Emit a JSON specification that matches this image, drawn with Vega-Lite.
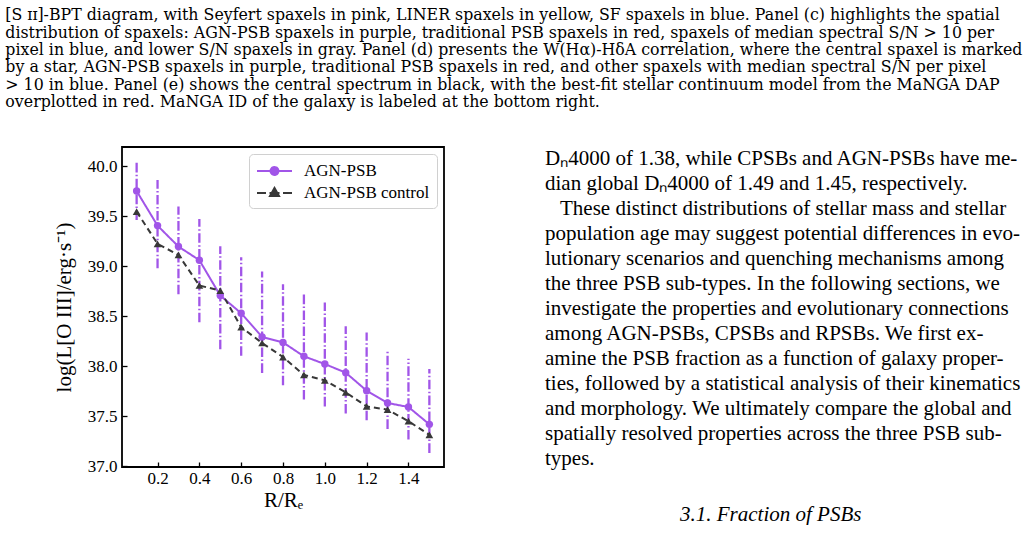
{
  "$schema": "https://vega.github.io/schema/vega-lite/v6.json",
  "background": "white",
  "padding": {"left": 5, "top": 7, "right": 0, "bottom": 0},
  "title": {
    "text": [
      "[S ɪɪ]-BPT diagram, with Seyfert spaxels in pink, LINER spaxels in yellow, SF spaxels in blue. Panel (c) highlights the spatial",
      "distribution of spaxels: AGN-PSB spaxels in purple, traditional PSB spaxels in red, spaxels of median spectral S/N > 10 per",
      "pixel in blue, and lower S/N spaxels in gray. Panel (d) presents the W(Hα)-HδA correlation, where the central spaxel is marked",
      "by a star, AGN-PSB spaxels in purple, traditional PSB spaxels in red, and other spaxels with median spectral S/N per pixel",
      "> 10 in blue. Panel (e) shows the central spectrum in black, with the best-fit stellar continuum model from the MaNGA DAP",
      "overplotted in red. MaNGA ID of the galaxy is labeled at the bottom right."
    ],
    "anchor": "start",
    "dx": -47,
    "font": "DejaVu Serif",
    "fontSize": 15.8,
    "fontWeight": "normal",
    "lineHeight": 17.4,
    "color": "black",
    "offset": 35
  },
  "spacing": 100,
  "resolve": {"legend": {"color": "independent"}, "scale": {"color": "independent"}},
  "hconcat": [
    {
      "width": 322,
      "height": 320,
      "data": {
        "values": [
          {"series": "AGN-PSB", "r": 0.1, "L": 39.75, "lo": 39.46, "hi": 40.04},
          {"series": "AGN-PSB", "r": 0.2, "L": 39.405, "lo": 38.98, "hi": 39.86},
          {"series": "AGN-PSB", "r": 0.3, "L": 39.196, "lo": 38.72, "hi": 39.595},
          {"series": "AGN-PSB", "r": 0.4, "L": 39.06, "lo": 38.44, "hi": 39.47},
          {"series": "AGN-PSB", "r": 0.5, "L": 38.707, "lo": 38.17, "hi": 39.2},
          {"series": "AGN-PSB", "r": 0.6, "L": 38.53, "lo": 38.105, "hi": 39.09},
          {"series": "AGN-PSB", "r": 0.7, "L": 38.293, "lo": 37.934, "hi": 38.947},
          {"series": "AGN-PSB", "r": 0.8, "L": 38.239, "lo": 37.81, "hi": 38.82},
          {"series": "AGN-PSB", "r": 0.9, "L": 38.1, "lo": 37.668, "hi": 38.731},
          {"series": "AGN-PSB", "r": 1.0, "L": 38.023, "lo": 37.6, "hi": 38.638},
          {"series": "AGN-PSB", "r": 1.1, "L": 37.937, "lo": 37.528, "hi": 38.4},
          {"series": "AGN-PSB", "r": 1.2, "L": 37.757, "lo": 37.461, "hi": 38.339},
          {"series": "AGN-PSB", "r": 1.3, "L": 37.634, "lo": 37.375, "hi": 38.166},
          {"series": "AGN-PSB", "r": 1.4, "L": 37.594, "lo": 37.269, "hi": 38.076},
          {"series": "AGN-PSB", "r": 1.5, "L": 37.421, "lo": 37.136, "hi": 37.974},
          {"series": "AGN-PSB control", "r": 0.1, "L": 39.545},
          {"series": "AGN-PSB control", "r": 0.2, "L": 39.223},
          {"series": "AGN-PSB control", "r": 0.3, "L": 39.113},
          {"series": "AGN-PSB control", "r": 0.4, "L": 38.807},
          {"series": "AGN-PSB control", "r": 0.5, "L": 38.757},
          {"series": "AGN-PSB control", "r": 0.6, "L": 38.392},
          {"series": "AGN-PSB control", "r": 0.7, "L": 38.233},
          {"series": "AGN-PSB control", "r": 0.8, "L": 38.093},
          {"series": "AGN-PSB control", "r": 0.9, "L": 37.914},
          {"series": "AGN-PSB control", "r": 1.0, "L": 37.86},
          {"series": "AGN-PSB control", "r": 1.1, "L": 37.741},
          {"series": "AGN-PSB control", "r": 1.2, "L": 37.6},
          {"series": "AGN-PSB control", "r": 1.3, "L": 37.568},
          {"series": "AGN-PSB control", "r": 1.4, "L": 37.452},
          {"series": "AGN-PSB control", "r": 1.5, "L": 37.316}
        ]
      },
      "encoding": {
        "x": {
          "field": "r",
          "type": "quantitative",
          "scale": {"domain": [0.03, 1.57], "nice": false, "zero": false},
          "axis": {
            "values": [0.2, 0.4, 0.6, 0.8, 1.0, 1.2, 1.4],
            "format": ".1f",
            "title": "R/Rₑ",
            "labelPadding": 8,
            "titlePadding": 3
          }
        },
        "y": {
          "field": "L",
          "type": "quantitative",
          "scale": {"domain": [36.995, 40.19], "nice": false, "zero": false},
          "axis": {
            "values": [37.0, 37.5, 38.0, 38.5, 39.0, 39.5, 40.0],
            "format": ".1f",
            "title": "log(L[O III]/erg·s⁻¹)",
            "labelPadding": 10,
            "titlePadding": 13
          }
        },
        "color": {
          "field": "series",
          "type": "nominal",
          "scale": {"domain": ["AGN-PSB", "AGN-PSB control"], "range": ["#a155e8", "#383838"]},
          "legend": {
            "title": null,
            "orient": "top-right",
            "offset": 7,
            "padding": 7,
            "fillColor": "white",
            "strokeColor": "#d0d0d0",
            "cornerRadius": 4,
            "labelFont": "Liberation Serif",
            "labelFontSize": 17,
            "labelColor": "black",
            "symbolSize": 324,
            "symbolStrokeWidth": 2,
            "rowPadding": 4,
            "labelOffset": 28,
            "encode": {
              "symbols": {
                "update": {
                  "shape": {"signal": "datum.value === 'AGN-PSB' ? 'M-1,0L2.89,0M1.384,0A0.44,0.44 0 1 1 0.504,0A0.44,0.44 0 1 1 1.384,0Z' : 'M-1,0L0,0M0.39,0L1.5,0M1.89,0L2.89,0M0.944,-0.56L1.444,0.33L0.444,0.33Z'"},
                  "fill": {"signal": "datum.value === 'AGN-PSB' ? '#a155e8' : '#383838'"},
                  "stroke": {"signal": "datum.value === 'AGN-PSB' ? '#a155e8' : '#383838'"},
                  "strokeDash": {"value": [1, 0]},
                  "opacity": {"value": 1},
                  "fillOpacity": {"value": 1}
                }
              }
            }
          }
        }
      },
      "layer": [
        {
          "transform": [{"filter": "datum.series === 'AGN-PSB'"}],
          "mark": {"type": "rule", "strokeWidth": 2.3, "strokeDash": [9.6, 2.4, 1.5, 2.4]},
          "encoding": {
            "y": {"field": "lo", "type": "quantitative"},
            "y2": {"field": "hi"}
          }
        },
        {
          "mark": {"type": "line", "strokeWidth": 2},
          "encoding": {
            "strokeDash": {
              "field": "series",
              "type": "nominal",
              "scale": {"domain": ["AGN-PSB", "AGN-PSB control"], "range": [[1, 0], [6, 4]]},
              "legend": null
            }
          }
        },
        {
          "transform": [{"filter": "datum.series === 'AGN-PSB'"}],
          "mark": {"type": "point", "shape": "circle", "filled": true, "size": 55, "opacity": 1}
        },
        {
          "transform": [{"filter": "datum.series === 'AGN-PSB control'"}],
          "mark": {"type": "point", "shape": "triangle-up", "filled": true, "size": 60, "opacity": 1}
        }
      ]
    },
    {
      "width": 1,
      "height": 1,
      "view": {"stroke": null},
      "data": {"values": []},
      "mark": {"type": "point", "opacity": 0},
      "title": {
        "text": [
          "Dₙ4000 of 1.38, while CPSBs and AGN-PSBs have me-",
          "dian global Dₙ4000 of 1.49 and 1.45, respectively.",
          "\u2800These distinct distributions of stellar mass and stellar",
          "population age may suggest potential differences in evo-",
          "lutionary scenarios and quenching mechanisms among",
          "the three PSB sub-types. In the following sections, we",
          "investigate the properties and evolutionary connections",
          "among AGN-PSBs, CPSBs and RPSBs. We first ex-",
          "amine the PSB fraction as a function of galaxy proper-",
          "ties, followed by a statistical analysis of their kinematics",
          "and morphology. We ultimately compare the global and",
          "spatially resolved properties across the three PSB sub-",
          "types."
        ],
        "subtitle": ["\u2800\u2800\u2800\u2800\u2800\u2800\u2800\u2800\u28003.1. Fraction of PSBs"],
        "orient": "bottom",
        "anchor": "start",
        "baseline": "top",
        "offset": 0,
        "font": "Liberation Serif",
        "fontSize": 21,
        "fontWeight": "normal",
        "lineHeight": 25,
        "color": "black",
        "subtitleFont": "Liberation Serif",
        "subtitleFontSize": 21,
        "subtitleFontStyle": "italic",
        "subtitleColor": "black",
        "subtitlePadding": 35
      }
    }
  ],
  "config": {
    "font": "Liberation Serif",
    "view": {"stroke": "black", "strokeWidth": 1.8},
    "axis": {
      "domain": false,
      "grid": false,
      "ticks": true,
      "tickSize": -5,
      "tickColor": "black",
      "tickWidth": 1.3,
      "labelFont": "Liberation Serif",
      "labelFontSize": 17,
      "labelColor": "black",
      "titleFont": "Liberation Serif",
      "titleFontSize": 21,
      "titleFontWeight": "normal",
      "titleColor": "black"
    }
  }
}
